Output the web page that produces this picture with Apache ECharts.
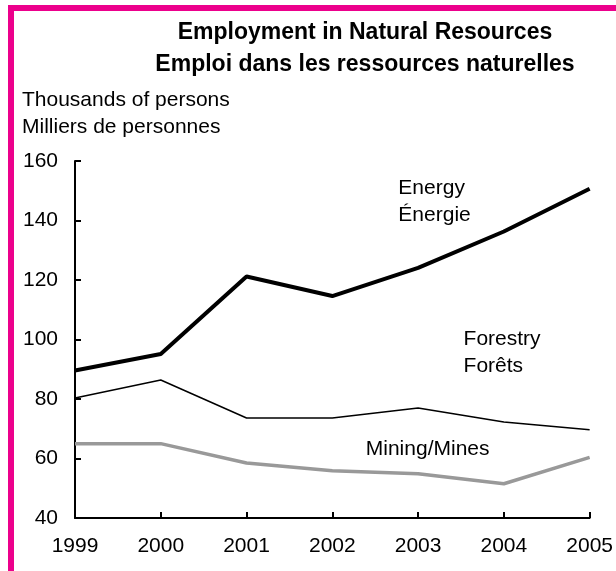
<!DOCTYPE html>
<html>
<head>
<meta charset="utf-8">
<script src="https://cdn.jsdelivr.net/npm/echarts@6/dist/echarts.min.js"></script>
<style>
  html, body { margin: 0; padding: 0; background: #fff; }
  .chart_view { position: relative; width: 616px; height: 571px; overflow: hidden; }
  .frame { position: absolute; left: 8px; top: 5px; width: 700px; height: 700px;
    border-left: 6px solid #ec008c; border-top: 6px solid #ec008c; box-sizing: border-box; }
  #chart { position: absolute; left: 0; top: 0; width: 616px; height: 571px; }
</style>
</head>
<body>
<div class="chart_view">
  <div class="frame"></div>
  <div id="chart"></div>
</div>
<script>
// years on the x axis
var years = [1999, 2000, 2001, 2002, 2003, 2004, 2005]
// thousands of persons
var energy = [89.6, 95.1, 121.2, 114.6, 124.1, 136.3, 150.7]
var forestry = [80.3, 86.4, 73.6, 73.6, 77.0, 72.3, 69.7]
var mining = [65.0, 65.0, 58.5, 55.9, 54.9, 51.5, 60.4]
// y axis ticks
var yTicks = [40, 60, 80, 100, 120, 140, 160]

var font = '"Liberation Sans", Arial, sans-serif'

function pairs (vals) {
  return years.map(function (y, i) { return [y, vals[i]] })
}

// label placed in data space
function tag (text, x, y) {
  return {
    symbol: 'circle',
    symbolSize: 0,
    silent: true,
    label: {
      show: true,
      position: 'inside',
      align: 'left',
      verticalAlign: 'middle',
      color: '#000',
      fontFamily: font,
      fontSize: 21,
      lineHeight: 27,
      formatter: text
    },
    data: [{ coord: [x, y] }]
  }
}

var chart = echarts.init(document.getElementById('chart'))
var option = {
  animation: false,
  title: [
    {
      text: 'Employment in Natural Resources\nEmploi dans les ressources naturelles',
      left: 365,
      top: 17,
      textAlign: 'center',
      padding: 0,
      textStyle: { fontFamily: font, fontSize: 23, fontWeight: 'bold', lineHeight: 32, color: '#000' }
    },
    {
      text: 'Thousands of persons\nMilliers de personnes',
      left: 22,
      top: 87,
      padding: 0,
      textStyle: { fontFamily: font, fontSize: 21, fontWeight: 'normal', lineHeight: 27, color: '#000' }
    }
  ],
  grid: { left: 75, right: 22, top: 161, bottom: 53, containLabel: false },
  xAxis: {
    type: 'value',
    min: years[0],
    max: years[years.length - 1],
    interval: 1,
    splitLine: { show: false },
    axisLine: { show: true, onZero: false, lineStyle: { color: '#000', width: 2 } },
    axisTick: { show: true, inside: true, length: 6, lineStyle: { color: '#000', width: 2 } },
    axisLabel: {
      margin: 18,
      color: '#000',
      fontFamily: font,
      fontSize: 21,
      formatter: function (v) { return String(v) }
    }
  },
  yAxis: {
    type: 'value',
    min: yTicks[0],
    max: yTicks[yTicks.length - 1],
    interval: 20,
    splitLine: { show: false },
    axisLine: { show: true, onZero: false, lineStyle: { color: '#000', width: 2 } },
    axisTick: { show: true, inside: true, length: 6, lineStyle: { color: '#000', width: 2 } },
    axisLabel: { margin: 17, color: '#000', fontFamily: font, fontSize: 21 }
  },
  series: [
    {
      name: 'Mining/Mines',
      type: 'line',
      data: pairs(mining),
      showSymbol: false,
      lineStyle: { color: '#999999', width: 3.5 },
      markPoint: tag('Mining/Mines', 2002.39, 63)
    },
    {
      name: 'Forestry',
      type: 'line',
      data: pairs(forestry),
      showSymbol: false,
      lineStyle: { color: '#000', width: 1.5 },
      markPoint: tag('Forestry\nForêts', 2003.53, 95.4)
    },
    {
      name: 'Energy',
      type: 'line',
      data: pairs(energy),
      showSymbol: false,
      lineStyle: { color: '#000', width: 4 },
      markPoint: tag('Energy\nÉnergie', 2002.77, 146.3)
    }
  ]
}
chart.setOption(option)
</script>
</body>
</html>
